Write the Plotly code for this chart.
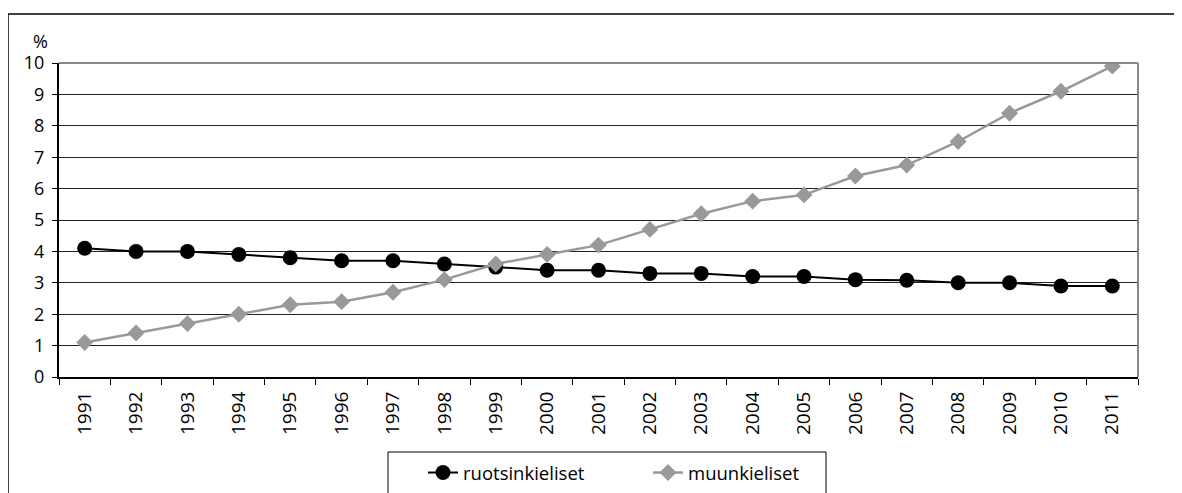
import plotly.graph_objects as go

years = [str(y) for y in range(1991, 2012)]
ruotsinkieliset = [4.1, 4.0, 4.0, 3.9, 3.8, 3.7, 3.7, 3.6, 3.5, 3.4, 3.4,
                   3.3, 3.3, 3.2, 3.2, 3.1, 3.08, 3.0, 3.0, 2.9, 2.9]
muunkieliset = [1.1, 1.4, 1.7, 2.0, 2.3, 2.4, 2.7, 3.1, 3.6, 3.9, 4.2,
                4.7, 5.2, 5.6, 5.8, 6.4, 6.75, 7.5, 8.4, 9.1, 9.9]
y_ticks = list(range(0, 11))

FONT = "Open Sans, DejaVu Sans, sans-serif"
W, H = 1182, 493
OFF = 8  # page body margin
# plot area in screen pixels
SL, SR, ST, SB = 59, 1138, 63, 377
L, R, T, B = SL - OFF, SR - OFF, ST - OFF, SB - OFF


def px(x):
    return (x - OFF - L) / (R - L)


def py(y):
    return (B - (y - OFF)) / (B - T)


fig = go.Figure()
fig.add_trace(go.Scatter(
    x=years, y=ruotsinkieliset, name="ruotsinkieliset", mode="lines+markers",
    line=dict(color="#000000", width=2),
    marker=dict(symbol="circle", size=15, color="#000000"),
))
fig.add_trace(go.Scatter(
    x=years, y=muunkieliset, name="muunkieliset", mode="lines+markers",
    line=dict(color="#999999", width=2.5),
    marker=dict(symbol="diamond", size=13, color="#999999"),
))

shapes = [
    # outer frame (top and left)
    dict(type="line", xref="paper", yref="paper", x0=px(8), x1=px(1200),
         y0=py(14), y1=py(14), line=dict(color="#000000", width=1.5)),
    dict(type="line", xref="paper", yref="paper", x0=px(8), x1=px(8),
         y0=py(14), y1=py(520), line=dict(color="#000000", width=1.5)),
    # plot area top and right border (gray)
    dict(type="line", xref="paper", yref="paper", x0=0, x1=1, y0=1, y1=1,
         line=dict(color="#888888", width=2)),
    dict(type="line", xref="paper", yref="paper", x0=1, x1=1, y0=0, y1=1,
         line=dict(color="#888888", width=2)),
    # legend box
    dict(type="rect", xref="paper", yref="paper", x0=px(388), x1=px(826),
         y0=py(520), y1=py(452), line=dict(color="#000000", width=1)),
]

fig.update_layout(
    width=W, height=H,
    margin=dict(l=L, r=W - R, t=T, b=H - B, autoexpand=False),
    paper_bgcolor="white", plot_bgcolor="white",
    font=dict(family=FONT, size=18, color="#000000"),
    shapes=shapes,
    showlegend=True,
    legend=dict(orientation="h", x=px(423), y=py(473), xanchor="left",
                yanchor="middle", font=dict(size=18.5, family=FONT),
                entrywidth=180, entrywidthmode="pixels",
                bgcolor="rgba(0,0,0,0)", borderwidth=0),
    annotations=[dict(text="%", xref="paper", yref="paper", x=px(40), y=py(41),
                      xanchor="center", yanchor="middle", showarrow=False,
                      font=dict(size=18, family=FONT))],
)
fig.update_xaxes(
    type="category", range=[-0.5, 20.5], tickangle=-90, tickson="boundaries",
    ticks="outside", ticklen=6, tickcolor="#000000", tickwidth=1,
    ticklabelstandoff=5,
    showline=True, linecolor="#000000", linewidth=2,
    showgrid=False, tickfont=dict(size=19, family=FONT),
)
fig.update_yaxes(
    range=[0, 10], tickvals=y_ticks, ticks="outside", ticklen=5,
    tickcolor="#000000", showline=True, linecolor="#000000", linewidth=2,
    ticklabelstandoff=4,
    showgrid=True, gridcolor="#222222", gridwidth=1, zeroline=False,
    tickfont=dict(size=18, family=FONT),
)

fig.write_html("out.html")
